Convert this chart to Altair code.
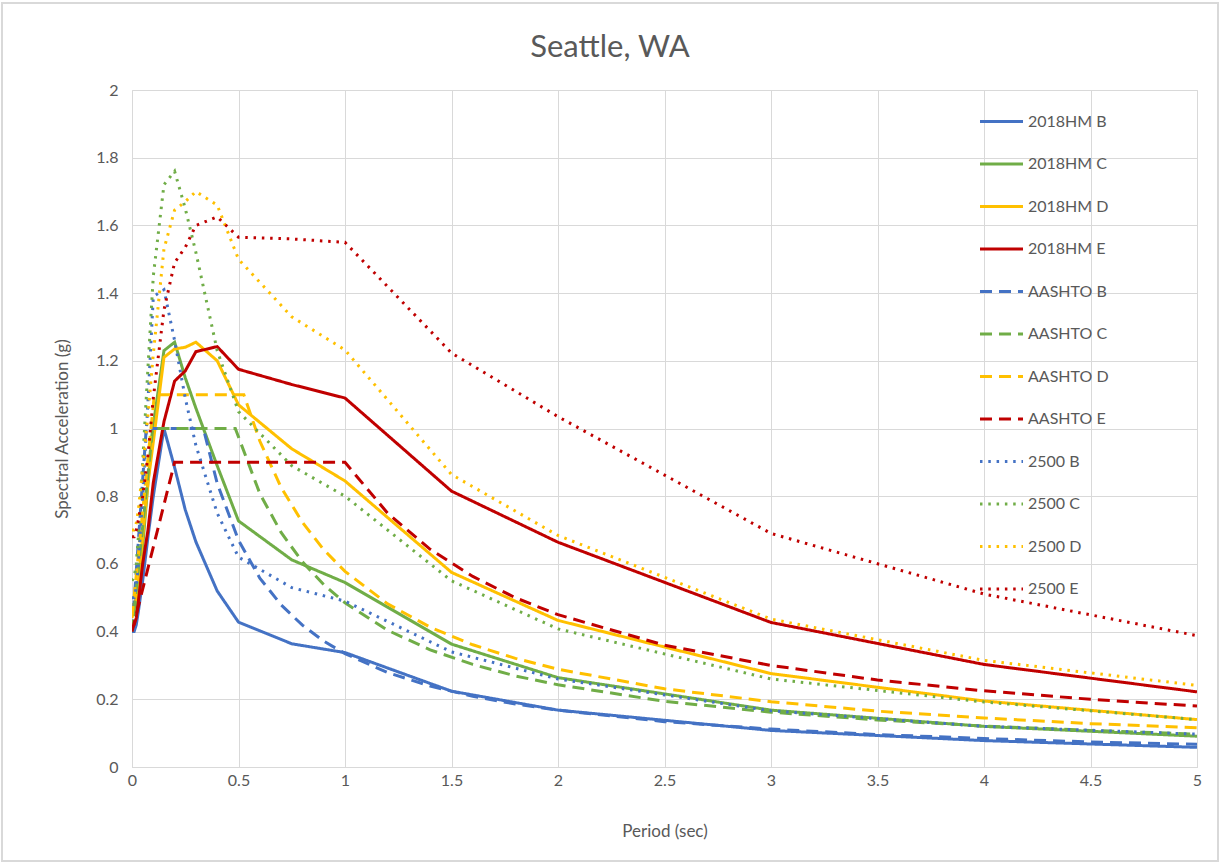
import altair as alt
import pandas as pd

# Periods (s) at which the 2018 hazard-model and 2500-yr spectra are tabulated
periods = [0, 0.01, 0.02, 0.03, 0.05, 0.075, 0.1, 0.15, 0.2, 0.25, 0.3, 0.4,
           0.5, 0.75, 1, 1.5, 2, 3, 4, 5]

# 2018 hazard model spectra by site class (g)
hm_b = [0.40, 0.40, 0.42, 0.46, 0.55, 0.68, 0.80, 1.00, 0.885, 0.76, 0.665, 0.52,
        0.428, 0.364, 0.338, 0.224, 0.168, 0.108, 0.078, 0.058]
hm_c = [0.45, 0.45, 0.47, 0.52, 0.65, 0.84, 1.01, 1.23, 1.255, 1.15, 1.06, 0.89,
        0.727, 0.612, 0.545, 0.363, 0.264, 0.168, 0.12, 0.091]
hm_d = [0.48, 0.48, 0.50, 0.55, 0.68, 0.84, 0.96, 1.21, 1.235, 1.24, 1.255, 1.20,
        1.07, 0.94, 0.845, 0.575, 0.433, 0.276, 0.195, 0.14]
hm_e = [0.41, 0.42, 0.44, 0.49, 0.60, 0.70, 0.84, 1.02, 1.14, 1.17, 1.227, 1.242,
        1.175, 1.13, 1.09, 0.815, 0.664, 0.427, 0.303, 0.222]

# 2500-year return period spectra by site class (g)
rp_b = [0.50, 0.50, 0.53, 0.60, 0.80, 1.08, 1.39, 1.41, 1.26, 1.09, 0.95, 0.75,
        0.62, 0.53, 0.49, 0.340, 0.26, 0.166, 0.12, 0.097]
rp_c = [0.55, 0.56, 0.60, 0.68, 0.90, 1.18, 1.45, 1.72, 1.76, 1.65, 1.52, 1.23,
        1.05, 0.89, 0.80, 0.55, 0.408, 0.26, 0.192, 0.14]
rp_d = [0.70, 0.70, 0.72, 0.76, 0.88, 1.04, 1.22, 1.53, 1.645, 1.67, 1.70, 1.66,
        1.50, 1.33, 1.232, 0.864, 0.684, 0.437, 0.315, 0.241]
rp_e = [0.68, 0.68, 0.70, 0.73, 0.80, 0.92, 1.09, 1.35, 1.49, 1.535, 1.60, 1.625,
        1.565, 1.56, 1.55, 1.223, 1.035, 0.69, 0.511, 0.388]

# AASHTO design spectra (period, acceleration) by site class
aa_b_t = [0, 0.067, 0.335, 0.4, 0.5, 0.6, 0.7, 0.8, 0.9, 1.0, 1.2, 1.4, 1.6, 1.8,
          2.0, 2.5, 3.0, 3.5, 4.0, 4.5, 5.0]
aa_b = [0.40, 1.0, 1.0, 0.838, 0.67, 0.558, 0.479, 0.419, 0.372, 0.335, 0.279,
        0.239, 0.209, 0.186, 0.168, 0.134, 0.112, 0.096, 0.084, 0.074, 0.067]
aa_c_t = [0, 0.097, 0.485, 0.6, 0.7, 0.8, 0.9, 1.0, 1.2, 1.4, 1.6, 1.8, 2.0, 2.5,
          3.0, 3.5, 4.0, 4.5, 5.0]
aa_c = [0.40, 1.0, 1.0, 0.808, 0.693, 0.606, 0.539, 0.485, 0.404, 0.346, 0.303,
        0.269, 0.243, 0.194, 0.162, 0.139, 0.121, 0.108, 0.097]
aa_d_t = [0, 0.105, 0.525, 0.6, 0.7, 0.8, 0.9, 1.0, 1.2, 1.4, 1.6, 1.8, 2.0, 2.5,
          3.0, 3.5, 4.0, 4.5, 5.0]
aa_d = [0.44, 1.1, 1.1, 0.963, 0.826, 0.723, 0.642, 0.578, 0.482, 0.413, 0.361,
        0.321, 0.289, 0.231, 0.193, 0.165, 0.145, 0.128, 0.116]
aa_e_t = [0, 0.2, 1.0, 1.2, 1.4, 1.6, 1.8, 2.0, 2.5, 3.0, 3.5, 4.0, 4.5, 5.0]
aa_e = [0.40, 0.9, 0.9, 0.75, 0.643, 0.563, 0.5, 0.45, 0.36, 0.30, 0.257, 0.225,
        0.2, 0.18]

series = [
    ("2018HM B", periods, hm_b),
    ("2018HM C", periods, hm_c),
    ("2018HM D", periods, hm_d),
    ("2018HM E", periods, hm_e),
    ("AASHTO B", aa_b_t, aa_b),
    ("AASHTO C", aa_c_t, aa_c),
    ("AASHTO D", aa_d_t, aa_d),
    ("AASHTO E", aa_e_t, aa_e),
    ("2500 B", periods, rp_b),
    ("2500 C", periods, rp_c),
    ("2500 D", periods, rp_d),
    ("2500 E", periods, rp_e),
]

rows = []
for name, ts, vals in series:
    for i, (t, v) in enumerate(zip(ts, vals)):
        rows.append({"series": name, "T": t, "SA": v, "i": i})
df = pd.DataFrame(rows)

names = [s[0] for s in series]
blue, green, yellow, red = "#4472C4", "#70AD47", "#FFC000", "#C00000"
colors = [blue, green, yellow, red] * 3
solid, dashed, dotted = [1, 0], [12, 7], [2.5, 5.8]
dashes = [solid] * 4 + [dashed] * 4 + [dotted] * 4

FONT = "Lato"
TXT = "#595959"
GRID = "#D9D9D9"
TITLE = "Seattle, WA"

lines = alt.Chart(df).mark_line(strokeWidth=3, clip=True).encode(
    x=alt.X("T:Q", title="Period (sec)",
            scale=alt.Scale(domain=[0, 5], nice=False),
            axis=alt.Axis(values=[0, 0.5, 1, 1.5, 2, 2.5, 3, 3.5, 4, 4.5, 5],
                          format="~g", grid=True, gridColor=GRID, ticks=False,
                          domain=True, domainColor=GRID, labelPadding=5,
                          labelFlush=False,
                          labelFontSize=16, labelColor=TXT, labelFont=FONT,
                          titleFontSize=17, titleColor=TXT, titleFont=FONT,
                          titleFontWeight="normal", titlePadding=35)),
    y=alt.Y("SA:Q", title="Spectral Acceleration (g)",
            scale=alt.Scale(domain=[0, 2], nice=False),
            axis=alt.Axis(values=[0, 0.2, 0.4, 0.6, 0.8, 1, 1.2, 1.4, 1.6, 1.8, 2],
                          format="~g", grid=True, gridColor=GRID, ticks=False,
                          domain=False, labelPadding=14, labelFlush=False,
                          labelFontSize=16, labelColor=TXT, labelFont=FONT,
                          titleFontSize=17, titleColor=TXT, titleFont=FONT,
                          titleFontWeight="normal", titlePadding=24)),
    color=alt.Color("series:N", sort=names,
                    scale=alt.Scale(domain=names, range=colors),
                    legend=alt.Legend(orient="none", legendX=846, legendY=8,
                                      title=None, symbolType="stroke",
                                      symbolSize=1850, symbolStrokeWidth=3,
                                      labelFontSize=16, labelColor=TXT,
                                      labelFont=FONT, labelOffset=3,
                                      rowPadding=10.5, padding=0)),
    strokeDash=alt.StrokeDash("series:N", sort=names,
                              scale=alt.Scale(domain=names, range=dashes),
                              legend=None),
    order="i:Q",
)

one = pd.DataFrame({"k": [0]})

# light frame around the whole chart area
frame = alt.Chart(one).mark_rect(
    filled=False, stroke=GRID, strokeWidth=2, clip=False
).encode(
    x=alt.value(-130), x2=alt.value(1086),
    y=alt.value(-87), y2=alt.value(771),
)

# chart heading, centred on the full chart area
heading = alt.Chart(one).mark_text(
    text=TITLE, font=FONT, fontSize=31, color=TXT, align="center",
    baseline="middle", clip=False
).encode(x=alt.value(478), y=alt.value(-42))

chart = alt.layer(frame, lines, heading).properties(
    width=1065,
    height=677,
    autosize=alt.AutoSizeParams(type="none"),
    padding={"left": 132, "top": 90, "right": 23, "bottom": 96},
).configure_view(stroke=None).configure(background="white")

chart.save("out.html", embed_options={"renderer": "svg", "actions": False})
